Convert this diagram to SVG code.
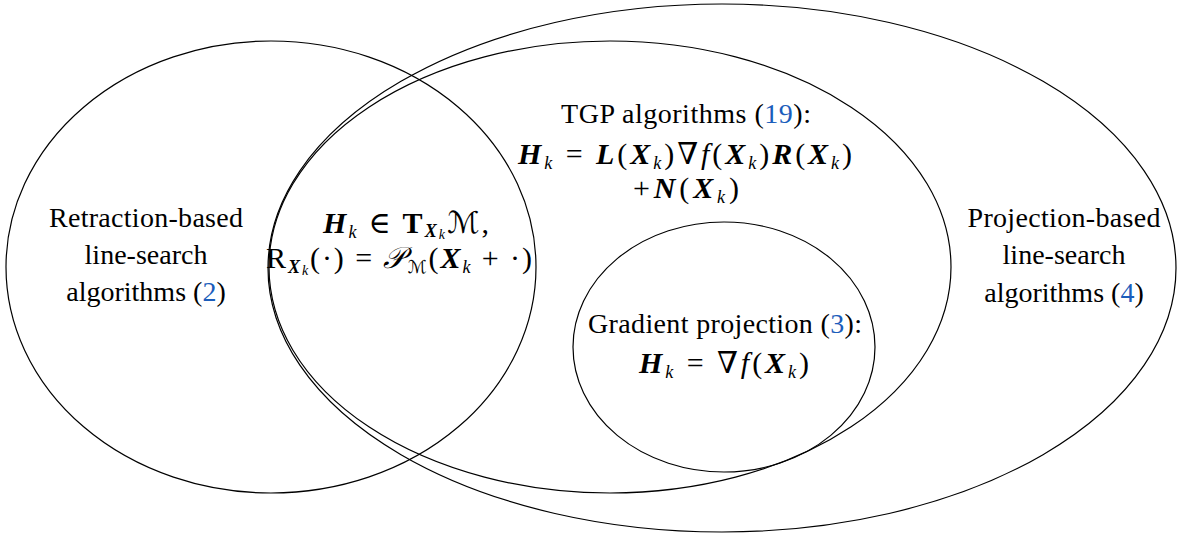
<svg xmlns="http://www.w3.org/2000/svg" width="1180" height="536" viewBox="0 0 1180 536">
<style>
.e{fill:none;stroke:#000;stroke-width:1.2}
.t{font-family:"Liberation Serif","DejaVu Serif",serif;font-size:28px;fill:#000;text-anchor:middle}
.m{font-size:30px}
.bi{font-weight:bold;font-style:italic}
.i{font-style:italic}
.b{font-weight:bold}
.s{font-size:18px}
.ss{font-size:14px}
.ref{fill:#1b5dbb}
.cal{font-family:"DejaVu Serif","DejaVu Sans",serif;font-style:italic}
</style>
<rect width="1180" height="536" fill="#fff"/>
<g id="connectors"></g>
<g id="retraction">
<ellipse class="e" cx="271" cy="267" rx="265" ry="226"/>
<text class="t" x="146" y="227" textLength="194" lengthAdjust="spacing">Retraction-based</text>
<text class="t" x="146" y="264">line-search</text>
<text class="t" x="146" y="301">algorithms (<tspan class="ref">2</tspan>)</text>
</g>
<g id="projection">
<ellipse class="e" cx="722" cy="268" rx="454" ry="264"/>
<text class="t" x="1064" y="227" textLength="193" lengthAdjust="spacing">Projection-based</text>
<text class="t" x="1064" y="264">line-search</text>
<text class="t" x="1064" y="302">algorithms (<tspan class="ref">4</tspan>)</text>
</g>
<g id="tgp">
<ellipse class="e" cx="610" cy="267" rx="341" ry="226"/>
<text class="t" x="686" y="123" textLength="250" lengthAdjust="spacing">TGP algorithms (<tspan class="ref">19</tspan>):</text>
<text class="t m" x="685" y="164" textLength="334" lengthAdjust="spacing"><tspan class="bi">H</tspan><tspan class="s i" dy="5">k</tspan><tspan dy="-5"> = </tspan><tspan class="bi">L</tspan>(<tspan class="bi">X</tspan><tspan class="s i" dy="5">k</tspan><tspan dy="-5">)∇</tspan><tspan class="i">f</tspan>(<tspan class="bi">X</tspan><tspan class="s i" dy="5">k</tspan><tspan dy="-5">)</tspan><tspan class="bi">R</tspan>(<tspan class="bi">X</tspan><tspan class="s i" dy="5">k</tspan><tspan dy="-5">)</tspan></text>
<text class="t m" x="686" y="198" textLength="106" lengthAdjust="spacing">+<tspan class="bi">N</tspan>(<tspan class="bi">X</tspan><tspan class="s i" dy="5">k</tspan><tspan dy="-5">)</tspan></text>
</g>
<g id="intersection">
<text class="t m" x="406" y="233" textLength="166" lengthAdjust="spacing"><tspan class="bi">H</tspan><tspan class="s i" dy="5">k</tspan><tspan dy="-5"> ∈ </tspan><tspan class="b">T</tspan><tspan class="s bi" dy="4">X</tspan><tspan class="ss i" dy="2">k</tspan><tspan class="cal" dy="-6">ℳ</tspan>,</text>
<text class="t m" x="399" y="268" textLength="266" lengthAdjust="spacing">R<tspan class="s bi" dy="5">X</tspan><tspan class="ss i" dy="2">k</tspan><tspan dy="-7">(·) = </tspan><tspan class="cal">𝒫</tspan><tspan class="s cal" dy="5">ℳ</tspan><tspan dy="-5">(</tspan><tspan class="bi">X</tspan><tspan class="s i" dy="5">k</tspan><tspan dy="-5"> + ·)</tspan></text>
</g>
<g id="gradient">
<ellipse class="e" cx="724" cy="347" rx="151" ry="125"/>
<text class="t" x="725" y="333" textLength="274" lengthAdjust="spacing">Gradient projection (<tspan class="ref">3</tspan>):</text>
<text class="t m" x="724" y="373" textLength="170" lengthAdjust="spacing"><tspan class="bi">H</tspan><tspan class="s i" dy="5">k</tspan><tspan dy="-5"> = ∇</tspan><tspan class="i">f</tspan>(<tspan class="bi">X</tspan><tspan class="s i" dy="5">k</tspan><tspan dy="-5">)</tspan></text>
</g>
</svg>
